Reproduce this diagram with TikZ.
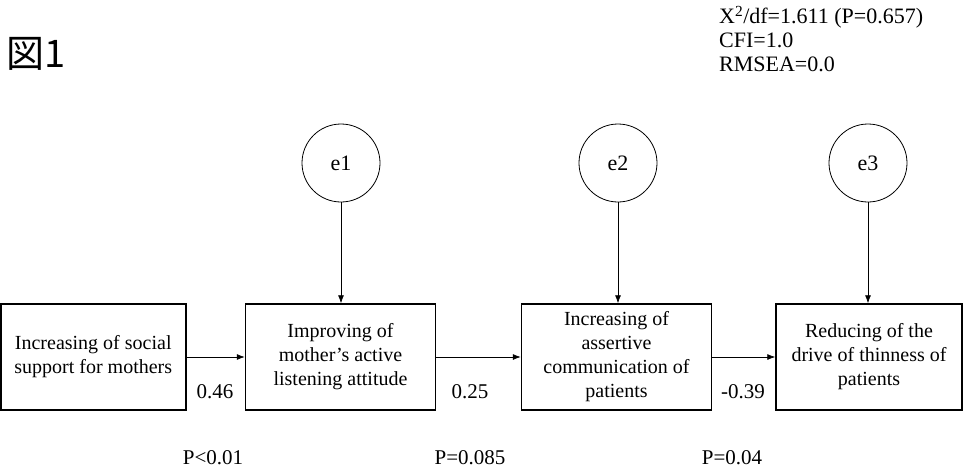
\documentclass[tikz,border=0pt]{standalone}
\usepackage{fontspec}
\setmainfont{Liberation Serif}
\newfontfamily\cjk{Noto Sans CJK JP}
\usetikzlibrary{arrows.meta}
\begin{document}
\begin{tikzpicture}[x=1pt,y=-1pt,
  box/.style={draw,line width=1.5pt,minimum width=190pt,minimum height=106pt,align=center,font=\fontsize{20}{24}\selectfont,inner sep=0pt},
  err/.style={draw,circle,line width=0.8pt,minimum size=78pt,inner sep=0pt,font=\fontsize{22}{26}\selectfont},
  arr/.style={-{Latex[length=8pt,width=6pt]},line width=0.7pt},
  lab/.style={font=\fontsize{21}{24}\selectfont,inner sep=0pt}]
\useasboundingbox (0,0) rectangle (964,472);
\node[box,minimum width=185pt,anchor=west] (b1) at (0,357) {Increasing of social\\support for mothers};
\node[box] (b2) at (340.5,357) {Improving of\\mother’s active\\listening attitude};
\node[box] (b3) at (616.5,357) {Increasing of\\assertive\\communication of\\patients};
\node[box,minimum width=186pt] (b4) at (869,357) {Reducing of the\\drive of thinness of\\patients};
\node[err] (e1) at (341,163) {e1};
\node[err] (e2) at (618,163) {e2};
\node[err] (e3) at (868,163) {e3};
\draw[arr] (e1) -- (b2.north -| e1);
\draw[arr] (e2) -- (b3.north -| e2);
\draw[arr] (e3) -- (b4.north -| e3);
\draw[arr] (b1) -- (b2);
\draw[arr] (b2) -- (b3);
\draw[arr] (b3) -- (b4);
\node[lab] (c1) at (215,392) {0.46};
\node[lab] (c2) at (470,392) {0.25};
\node[lab] (c3) at (743,392) {-0.39};
\node[lab] (p1) at (213,458) {P<0.01};
\node[lab] (p2) at (470,458) {P=0.085};
\node[lab] (p3) at (732,458) {P=0.04};
\node[anchor=west,inner sep=0pt,font=\cjk\fontsize{38}{40}\selectfont] (fig) at (6,54) {図1};
\node[anchor=north west,inner sep=0pt,align=left,font=\fontsize{22}{24}\selectfont] (fit) at (719,6) {X\textsuperscript{2}/df=1.611 (P=0.657)\\CFI=1.0\\RMSEA=0.0};
\end{tikzpicture}
\end{document}
